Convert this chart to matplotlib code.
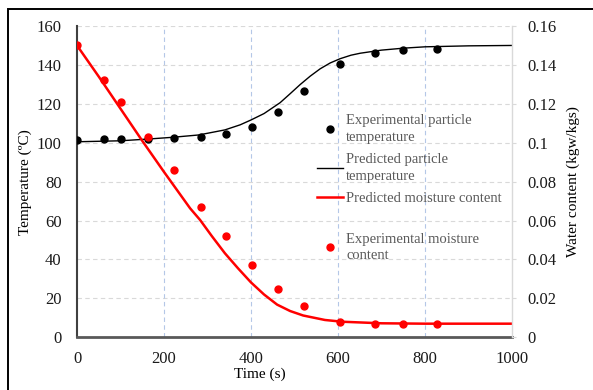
import matplotlib
matplotlib.use('Agg')
import matplotlib.pyplot as plt
from matplotlib.patches import Rectangle

plt.rcParams['font.family'] = ['Liberation Serif', 'DejaVu Serif']

# experimental points (time in s)
time_exp = [0, 62, 101, 164, 222, 284, 342, 402, 462, 522, 605, 685, 749, 827]
temp_exp = [101.6, 102.0, 102.0, 102.1, 102.3, 103.1, 104.4, 108.0, 115.7, 126.6, 140.3, 146.3, 147.5, 148.4]
moist_exp = [0.150, 0.132, 0.121, 0.103, 0.086, 0.067, 0.052, 0.037, 0.025, 0.016, 0.008, 0.007, 0.007, 0.007]

# predicted curves
time_temp_pred = [0, 100, 170, 220, 280, 340, 375, 400, 430, 467, 490, 513, 536, 559, 582, 605, 630, 651, 700, 750, 800, 900, 1000]
temp_pred = [100.5, 101.0, 102.0, 102.8, 104.0, 106.6, 109.2, 111.7, 115.0, 120.6, 125.2, 129.9, 134.2, 138.0, 141.0, 143.2, 145.0, 146.0, 147.6, 148.6, 149.3, 149.8, 150.0]
time_moist_pred = [0, 50, 100, 150, 200, 260, 283, 310, 340, 370, 400, 430, 460, 490, 520, 570, 610, 700, 800, 1000]
moist_pred = [0.150, 0.134, 0.1175, 0.101, 0.085, 0.0663, 0.0603, 0.052, 0.0432, 0.0355, 0.0282, 0.022, 0.0168, 0.0135, 0.0112, 0.0089, 0.0080, 0.0072, 0.0070, 0.0070]

fig = plt.figure(figsize=(5.93, 3.90), dpi=100)
ax = fig.add_axes([77 / 593, 1 - 337.3 / 390, 435 / 593, 311.3 / 390])
ax2 = ax.twinx()

# outer frame (picture is cropped on the right and bottom)
fig.patches.append(Rectangle((8 / 593, -0.5), 2, 0.5 + 1 - 9 / 390, transform=fig.transFigure,
                             fill=False, ec='black', lw=1.4))

ax.set_xlim(0, 1000)
ax.set_ylim(0, 160)
ax2.set_ylim(0, 0.16)
ax.set_xticks(range(0, 1001, 200))
ax.set_yticks(range(0, 161, 20))
ax2.set_yticks([0, 0.02, 0.04, 0.06, 0.08, 0.1, 0.12, 0.14, 0.16])
ax2.set_yticklabels(['0', '0.02', '0.04', '0.06', '0.08', '0.1', '0.12', '0.14', '0.16'])

# grid
for v in range(20, 161, 20):
    ax.axhline(v, color='#d9d9d9', lw=0.8, ls=(0, (4, 3)), zorder=0)
for v in range(200, 1000, 200):
    ax.axvline(v, color='#b4c7e7', lw=0.8, ls=(0, (4, 3)), zorder=0)

ax.spines['top'].set_visible(False)
ax2.spines['top'].set_visible(False)
ax.spines['left'].set_color('#404040')
ax.spines['left'].set_linewidth(1.5)
ax.spines['bottom'].set_color('#595959')
ax.spines['bottom'].set_linewidth(2)
ax2.spines['left'].set_visible(False)
ax2.spines['bottom'].set_visible(False)
ax2.spines['right'].set_color('#d9d9d9')
ax2.spines['right'].set_linewidth(1)
ax.spines['right'].set_visible(False)

ax.tick_params(axis='both', length=0, labelsize=12, colors='#1a1a1a')
ax.tick_params(axis='y', pad=11)
ax.tick_params(axis='x', pad=10)
ax2.tick_params(axis='y', length=3, color='#d9d9d9', labelsize=12, labelcolor='#1a1a1a', pad=8)

# lines and points
h1, = ax.plot(time_exp, temp_exp, 'o', color='black', ms=5, zorder=3, label='Experimental particle\ntemperature')
h2, = ax.plot(time_temp_pred, temp_pred, '-', color='black', lw=1, zorder=2, label='Predicted particle\ntemperature')
h3, = ax2.plot(time_moist_pred, moist_pred, '-', color='#ff0000', lw=1.8, zorder=2, label='Predicted moisture content')
h4, = ax2.plot(time_exp, moist_exp, 'o', color='#ff0000', ms=5, zorder=3, label='Experimental moisture\ncontent')

ax.set_xlabel('Time (s)', fontsize=11)
ax.set_ylabel('Temperature (ºC)', fontsize=11)
ax2.set_ylabel('Water content (kgw/kgs)', fontsize=11)
ax.xaxis.set_label_coords(0.42, -0.098)
ax.yaxis.set_label_coords(-0.103, 0.5)
ax2.yaxis.set_label_coords(1.126, 0.5)

leg1 = ax2.legend(handles=[h1, h2, h3], loc='upper left', bbox_to_anchor=(0.552, 0.716),
                  frameon=False, fontsize=10.5, handlelength=1.8, handletextpad=0.2,
                  labelspacing=0.62, borderpad=0, borderaxespad=0, labelcolor='#595959')
ax2.add_artist(leg1)
leg2 = ax2.legend(handles=[h4], loc='upper left', bbox_to_anchor=(0.552, 0.336),
                  frameon=False, fontsize=10.5, handlelength=1.8, handletextpad=0.2,
                  borderpad=0, borderaxespad=0, labelcolor='#595959')
for t in leg1.get_texts() + leg2.get_texts():
    t.set_linespacing(1.36)

fig.savefig('out.png', dpi=100)
